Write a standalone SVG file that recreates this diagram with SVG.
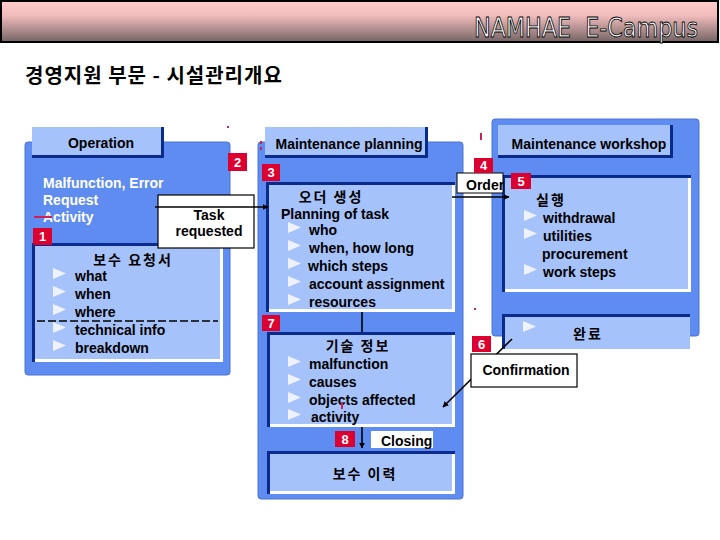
<svg xmlns="http://www.w3.org/2000/svg" width="720" height="540" viewBox="0 0 720 540">
<defs>
<linearGradient id="hdr" x1="0" y1="0" x2="0" y2="1">
<stop offset="0" stop-color="#ffcccc"/>
<stop offset="0.35" stop-color="#f2bcbc"/>
<stop offset="1" stop-color="#746464"/>
</linearGradient>
<marker id="ah" viewBox="0 0 10 10" refX="9" refY="5" markerWidth="6" markerHeight="6" orient="auto" markerUnits="userSpaceOnUse">
<path d="M0,0 L10,5 L0,10 Z" fill="#000"/>
</marker>
<path id="bul" d="M0,0 L13,5.5 L0,11 Z"/>
<style>
.outer{fill:#5f8cf0;stroke:#4a72d6;stroke-width:1}
.light{fill:#a6c2fa}
.dark{fill:#0a2a8c}
.wht{fill:#ffffff}
.t{font-family:"Liberation Sans",Arial,sans-serif;font-weight:bold;font-size:14px;fill:#000}
.tw{font-family:"Liberation Sans",Arial,sans-serif;font-weight:bold;font-size:14px;fill:#ffffff}
.k{font-family:"Noto Sans CJK KR","Noto Sans",sans-serif;font-weight:bold;font-size:14px;letter-spacing:2px;fill:#000}
.badge{fill:#dc0030}
.bn{font-family:"Liberation Sans",Arial,sans-serif;font-weight:bold;font-size:13px;fill:#fff;text-anchor:middle}
.b{fill:#eef2ff}
.box{fill:#fff;stroke:#000;stroke-width:1.2}
.red{fill:#d0205a}
.conn{stroke:#000;stroke-width:1.6;fill:none}
</style>
</defs>
<rect width="720" height="540" fill="#fff"/>

<g id="header">
<rect x="1" y="1" width="717" height="41" fill="url(#hdr)" stroke="#000" stroke-width="2"/>
<text x="474" y="37" font-family="DejaVu Sans" font-stretch="condensed" font-size="26" fill="#fff" stroke="#000" stroke-width="0.8" textLength="224" lengthAdjust="spacingAndGlyphs" xml:space="preserve">NAMHAE  E-Campus</text>
</g>

<g id="title">
<text x="25" y="83" font-family="Noto Sans CJK KR, sans-serif" font-weight="bold" font-size="20" letter-spacing="1" fill="#000">경영지원 부문 - 시설관리개요</text>
</g>

<!-- Operation panel -->
<g id="operation">
<rect class="outer" x="25" y="142" width="205" height="233" rx="3"/>
<rect class="light" x="32" y="127" width="132" height="31"/>
<rect class="dark" x="161" y="127" width="3" height="31"/>
<rect class="dark" x="32" y="155" width="132" height="3"/>
<text class="t" x="101" y="148" text-anchor="middle">Operation</text>
<text class="tw" x="43" y="188">Malfunction, Error</text>
<text class="tw" x="43" y="205">Request</text>
<text class="tw" x="43" y="222">Activity</text>
<rect class="red" x="34" y="216" width="18" height="2"/>
</g>

<g id="request-form">
<rect class="light" x="32" y="243" width="191" height="119"/>
<rect class="wht" x="32" y="359" width="191" height="3"/>
<rect class="wht" x="220" y="243" width="3" height="119"/>
<rect class="dark" x="32" y="243" width="191" height="3"/>
<rect class="dark" x="32" y="243" width="3" height="119"/>
<text class="k" x="133" y="265" text-anchor="middle">보수 요청서</text>
<use href="#bul" class="b" x="53" y="268"/>
<text class="t" x="75" y="281">what</text>
<use href="#bul" class="b" x="53" y="286"/>
<text class="t" x="75" y="299">when</text>
<use href="#bul" class="b" x="53" y="304"/>
<text class="t" x="75" y="317">where</text>
<line x1="37" y1="321" x2="218" y2="321" stroke="#000" stroke-width="1.5" stroke-dasharray="8,3"/>
<use href="#bul" class="b" x="53" y="322"/>
<text class="t" x="75" y="335">technical info</text>
<use href="#bul" class="b" x="53" y="340"/>
<text class="t" x="75" y="353">breakdown</text>
</g>

<!-- Maintenance planning panel -->
<g id="planning">
<rect class="outer" x="258" y="142" width="205" height="357" rx="3"/>
<rect class="light" x="265" y="127" width="163" height="31"/>
<rect class="dark" x="425" y="127" width="3" height="31"/>
<rect class="dark" x="265" y="155" width="163" height="3"/>
<text class="t" x="349" y="149" text-anchor="middle">Maintenance planning</text>
<rect class="red" x="260" y="141" width="2" height="3"/>
<rect class="red" x="260" y="147" width="2" height="3"/>
</g>

<g id="order-creation">
<rect class="light" x="266" y="182" width="189" height="130"/>
<rect class="wht" x="266" y="309" width="189" height="3"/>
<rect class="wht" x="452" y="182" width="3" height="130"/>
<rect class="dark" x="266" y="182" width="189" height="3"/>
<rect class="dark" x="266" y="182" width="3" height="130"/>
<text class="k" x="331" y="202" text-anchor="middle">오더 생성</text>
<text class="t" x="281" y="219">Planning of task</text>
<use href="#bul" class="b" x="288" y="222"/>
<text class="t" x="309" y="235">who</text>
<use href="#bul" class="b" x="288" y="240"/>
<text class="t" x="309" y="253">when, how long</text>
<use href="#bul" class="b" x="288" y="258"/>
<text class="t" x="308" y="271">which steps</text>
<use href="#bul" class="b" x="288" y="276"/>
<text class="t" x="309" y="289">account assignment</text>
<use href="#bul" class="b" x="288" y="294"/>
<text class="t" x="309" y="307">resources</text>
</g>

<g id="tech-info">
<rect class="light" x="267" y="332" width="188" height="95"/>
<rect class="wht" x="267" y="424" width="188" height="3"/>
<rect class="wht" x="452" y="332" width="3" height="95"/>
<rect class="dark" x="267" y="332" width="188" height="3"/>
<rect class="dark" x="267" y="332" width="3" height="95"/>
<text class="k" x="358" y="351" text-anchor="middle">기술 정보</text>
<use href="#bul" class="b" x="288" y="356"/>
<text class="t" x="309" y="369">malfunction</text>
<use href="#bul" class="b" x="288" y="374"/>
<text class="t" x="309" y="387">causes</text>
<use href="#bul" class="b" x="288" y="392"/>
<text class="t" x="309" y="405">objects affected</text>
<use href="#bul" class="b" x="288" y="409"/>
<text class="t" x="311" y="422">activity</text>
<rect class="red" x="341" y="402" width="2" height="7"/>
</g>

<g id="history">
<rect class="light" x="267" y="451" width="188" height="43"/>
<rect class="wht" x="267" y="491" width="188" height="3"/>
<rect class="wht" x="452" y="451" width="3" height="43"/>
<rect class="dark" x="267" y="451" width="188" height="3"/>
<rect class="dark" x="267" y="451" width="3" height="43"/>
<text class="k" x="365" y="479" text-anchor="middle">보수 이력</text>
</g>

<!-- Maintenance workshop panel -->
<g id="workshop">
<rect class="outer" x="492" y="119" width="207" height="217" rx="3"/>
<rect class="light" x="498" y="125" width="175" height="33"/>
<rect class="dark" x="670" y="125" width="3" height="33"/>
<rect class="dark" x="498" y="155" width="175" height="3"/>
<text class="t" x="589" y="149" text-anchor="middle">Maintenance workshop</text>
</g>

<g id="execution">
<rect class="light" x="502" y="175" width="189" height="117"/>
<rect class="wht" x="502" y="289" width="189" height="3"/>
<rect class="wht" x="688" y="175" width="3" height="117"/>
<rect class="dark" x="502" y="175" width="189" height="3"/>
<rect class="dark" x="502" y="175" width="3" height="117"/>
<text class="k" x="551" y="205" text-anchor="middle">실행</text>
<use href="#bul" class="b" x="524" y="210"/>
<text class="t" x="543" y="223">withdrawal</text>
<use href="#bul" class="b" x="524" y="228"/>
<text class="t" x="543" y="241">utilities</text>
<text class="t" x="542" y="259">procurement</text>
<use href="#bul" class="b" x="524" y="264"/>
<text class="t" x="543" y="277">work steps</text>
</g>

<g id="completion">
<rect class="light" x="502" y="314" width="188" height="35"/>
<rect class="dark" x="502" y="314" width="188" height="3"/>
<rect class="dark" x="502" y="314" width="3" height="35"/>
<use href="#bul" class="b" x="523" y="321"/>
<text class="k" x="588" y="339" text-anchor="middle">완료</text>
</g>

<!-- connectors -->
<g id="connectors">
<line class="conn" x1="362" y1="312" x2="362" y2="332"/>
<line class="conn" x1="362" y1="427" x2="362" y2="448" marker-end="url(#ah)"/>
<line class="conn" x1="452" y1="197" x2="509" y2="197" marker-end="url(#ah)"/>
<line class="conn" x1="512" y1="339" x2="443" y2="407" marker-end="url(#ah)"/>
</g>

<g id="task-requested">
<rect class="box" x="158" y="195" width="96" height="53"/>
<line class="conn" x1="155" y1="207" x2="268" y2="207" marker-end="url(#ah)"/>
<text class="t" x="209" y="220" text-anchor="middle">Task</text>
<text class="t" x="209" y="236" text-anchor="middle">requested</text>
</g>

<g id="order-label">
<rect x="457" y="173" width="46" height="20" fill="#fff" stroke="#000" stroke-width="1"/>
<text class="t" x="466" y="190">Order</text>
</g>

<g id="confirmation">
<rect class="box" x="471" y="354" width="106" height="33"/>
<text class="t" x="526" y="375" text-anchor="middle" font-size="13">Confirmation</text>
</g>

<g id="closing">
<rect x="371" y="431" width="62" height="17" fill="#fff"/>
<text class="t" x="381" y="446">Closing</text>
</g>

<g id="badges">
<rect class="badge" x="33" y="228" width="19" height="17"/><text class="bn" x="42.5" y="241">1</text>
<rect class="badge" x="228" y="153" width="19" height="18"/><text class="bn" x="237.5" y="167">2</text>
<rect class="badge" x="262" y="164" width="18" height="17"/><text class="bn" x="271" y="177">3</text>
<rect class="badge" x="474" y="158" width="19" height="15"/><text class="bn" x="483.5" y="170">4</text>
<rect class="badge" x="511" y="173" width="20" height="16"/><text class="bn" x="521" y="186">5</text>
<rect class="badge" x="472" y="336" width="19" height="16"/><text class="bn" x="481.5" y="349">6</text>
<rect class="badge" x="262" y="315" width="18" height="16"/><text class="bn" x="271" y="328">7</text>
<rect class="badge" x="335" y="431" width="20" height="16"/><text class="bn" x="345" y="444">8</text>
</g>

<g id="marks">
<rect class="red" x="227" y="126" width="2" height="2"/>
<rect class="red" x="480" y="133" width="2" height="7"/>
<rect class="red" x="474" y="308" width="2" height="2"/>
</g>
</svg>
